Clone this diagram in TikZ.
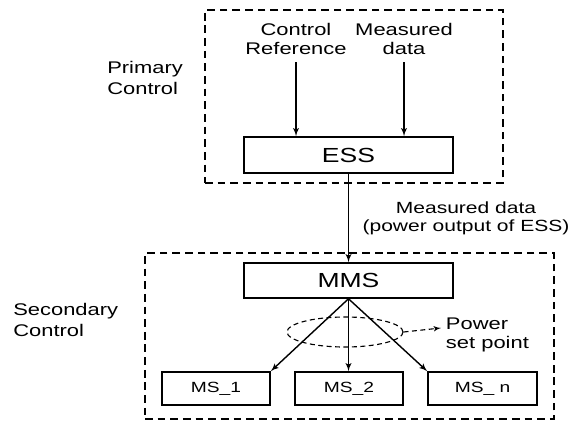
\documentclass[tikz,border=0pt]{standalone}
\usepackage{fontspec}
\setmainfont{Liberation Sans}[FakeStretch=1.3]
\usepackage{tikz}
\usetikzlibrary{positioning,arrows,calc,shapes}
\tikzset{
    on grid,
    node distance=3cm,
    auto,
    block/.style = {
        draw,
        shape=rectangle,
        line width=1.1pt,
        inner sep=0pt
    },
    group/.style = {
        draw,
        shape=rectangle,
        line width=1.2pt,
        dash pattern=on 5.5pt off 3.5pt,
        inner sep=0pt
    },
    label text/.style = {
        align=center,
        font=\fontsize{11.5}{12.8}\selectfont
    },
    side text/.style = {
        align=left,
        anchor=west,
        inner sep=0pt,
        font=\fontsize{12}{15}\selectfont
    },
    >=latex',
}

\begin{document}
\begin{tikzpicture}[x=0.025cm, y=-0.025cm]
            \useasboundingbox (0,0) rectangle (576,421);

            \node[group, minimum width=7.45cm, minimum height=4.325cm] (primary) at (354,96.5) {};
            \node[group, minimum width=10.225cm, minimum height=4.15cm] (secondary) at (349.5,336) {};

            \node[side text] (primlabel) at (107,78) {Primary\\Control};
            \node[side text] (seclabel) at (13,320) {Secondary\\Control};

            \node[label text, font=\fontsize{12}{13}\selectfont] (ctrlref) at (296,39) {Control\\Reference};
            \node[label text, font=\fontsize{12}{13}\selectfont] (measdata) at (404,39) {Measured\\data};

            \node[block, minimum width=5.225cm, minimum height=0.9cm, font=\fontsize{14.5}{16}\selectfont] (ess) at (348.5,155) {ESS};
            \node[block, minimum width=5.225cm, minimum height=0.875cm, font=\fontsize{14.5}{16}\selectfont] (mms) at (348.5,280.5) {MMS};

            \node[label text] (essout) at (466,218) {Measured data\\(power output of ESS)};

            \node[block, minimum width=2.7cm, minimum height=0.825cm, font=\fontsize{10.5}{12}\selectfont] (ms1) at (216,388.5) {MS\_1};
            \node[block, minimum width=2.7cm, minimum height=0.825cm, font=\fontsize{10.5}{12}\selectfont] (ms2) at (349,388.5) {MS\_2};
            \node[block, minimum width=2.725cm, minimum height=0.825cm, font=\fontsize{10.5}{12}\selectfont] (msn) at (482.5,388.5) {MS\_ n};

            \node[draw, ellipse, dash pattern=on 3.5pt off 2.5pt, line width=0.8pt, minimum width=2.9cm, minimum height=0.75cm, inner sep=0pt] (setring) at (345,332) {};
            \node[label text, align=left, anchor=west, font=\fontsize{12}{13}\selectfont] (pwrsp) at (441,335) {Power\\set point};

            \path[draw, ->, line width=1pt, shorten <=2pt] (ctrlref.south) -- (ctrlref.south |- ess.north);
            \path[draw, ->, line width=1pt, shorten <=2pt] (measdata.south) -- (measdata.south |- ess.north);
            \path[draw, ->, line width=1pt] (ess.south) -- (mms.north);

            \path[draw, ->, line width=1pt] (mms.south) -- (ms1.north east);
            \path[draw, ->, line width=1pt] (mms.south) -- (mms.south |- ms2.north);
            \path[draw, ->, line width=1pt] (mms.south) -- (msn.north west);

            \path[draw, ->, dash pattern=on 3.5pt off 2.5pt, line width=0.8pt] (setring.east) -- ([yshift=5pt]pwrsp.west);
        \end{tikzpicture}
\end{document}
